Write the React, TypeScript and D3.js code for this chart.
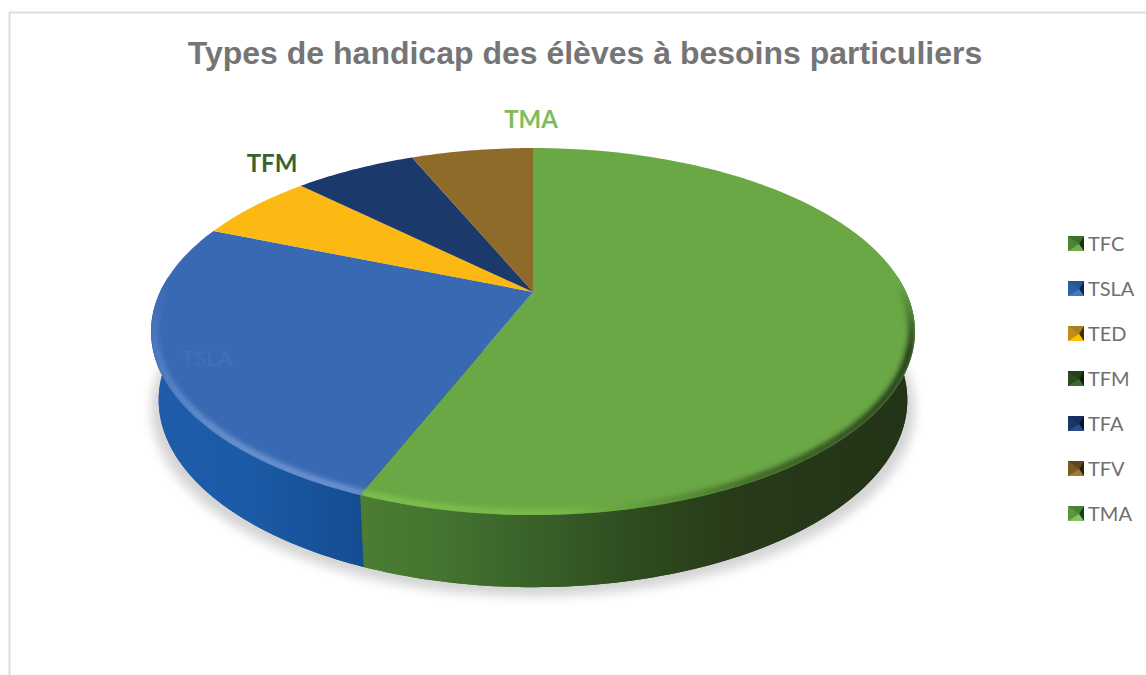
import React from "react";
import * as d3 from "d3";

const categories = ["TFC", "TSLA", "TED", "TFM", "TFA", "TFV", "TMA"];
const seriesValues = [56.05, 25.1, 6.15, 0, 6.35, 6.35, 0];
const topColors = ["#6aa846", "#3a69b3", "#fcb813", "#2f5320", "#1c396c", "#8f6b2a", "#7cbb5b"];
const iconTop = ["#3f6f2c", "#27538f", "#a77f1e", "#22401a", "#16305c", "#5f471c", "#4a7f37"];
const iconLeft = ["#4e8535", "#2d5fa5", "#bd8f1c", "#2a4c20", "#1a3767", "#7a5b24", "#5a9640"];
const iconBottom = ["#6fae4c", "#4678c0", "#ffc000", "#3f6a2e", "#2b4f88", "#a07c30", "#85c464"];
const iconRight = ["#1c2e14", "#0e2746", "#3d2e08", "#111f0c", "#08152b", "#2b200b", "#22391a"];
const chartTitle = "Types de handicap des élèves à besoins particuliers";

const W = 1146;
const H = 675;
const CX = 533;
const CY = 292;
const A = 373;
const B = 175;
const K = 0.2153;
const STEP = Math.PI / 180;

const rad = (deg: number) => (deg * Math.PI) / 180;

function project(theta: number, r = 1): [number, number] {
  const u = r * Math.sin(theta);
  const v = -r * Math.cos(theta);
  const w = 1 - K * v;
  return [CX + (A * u) / w, CY + (B * v) / w];
}
const low = ([x, y]: [number, number]): [number, number] => [
  CX + (x - CX) * 0.98,
  400 + (y - 331.5) * 1.02,
];

function arcPts(a0: number, a1: number, r = 1): [number, number][] {
  if (a1 <= a0) return [];
  const n = Math.max(2, Math.ceil((a1 - a0) / STEP));
  return d3.range(n + 1).map((i) => project(a0 + ((a1 - a0) * i) / n, r));
}

const line = d3.line<[number, number]>();
const center: [number, number] = [CX, CY];

const pie = d3.pie<number>().sort(null).value((d) => d);
const arcs = pie(seriesValues);
const color = d3.scaleOrdinal<string, string>().domain(categories).range(topColors);
const legendY = d3.scalePoint<string>().domain(categories).range([244, 514]);

const wallStops: Record<string, [number, string][]> = {
  TFC: [[361, "#4c7d33"], [440, "#44742f"], [540, "#386029"], [640, "#2e4a1e"], [740, "#273a19"], [915, "#223317"]],
  TSLA: [[150, "#1f5dab"], [250, "#1b5aa6"], [365, "#144c90"]],
};
const rimStops: Record<string, [number, string][]> = {
  TFC: [[361, "#80c04f"], [560, "#79bd49"], [660, "#5d9338"], [760, "#3e6226"], [915, "#22351a"]],
  TSLA: [[150, "#4f7cc0"], [220, "#6c94d0"], [365, "#6f95cf"]],
};

function Grad({ id, stops }: { id: string; stops: [number, string][] }) {
  const x0 = stops[0][0];
  const x1 = stops[stops.length - 1][0];
  return (
    <linearGradient id={id} gradientUnits="userSpaceOnUse" x1={x0} x2={x1} y1={0} y2={0}>
      {stops.map(([x, c], i) => (
        <stop key={i} offset={(x - x0) / (x1 - x0)} stopColor={c} />
      ))}
    </linearGradient>
  );
}

export default function App() {
  const full = arcPts(0, 2 * Math.PI);
  const visible = arcs
    .map((a, i) => ({ a, name: categories[i], i }))
    .filter((d) => d.a.endAngle > d.a.startAngle);
  const walled = visible.filter((d) => wallStops[d.name]);
  const iconSize = 16;
  return (
    <svg
      width={W}
      height={H}
      viewBox={`0 0 ${W} ${H}`}
      style={{ position: "absolute", left: 0, top: 0, display: "block", background: "#fff" }}
    >
      <defs>
        <filter id="shadow" x="-10%" y="-10%" width="120%" height="120%">
          <feGaussianBlur stdDeviation="5.5" />
        </filter>
        <filter id="rimBlur" filterUnits="userSpaceOnUse" x={100} y={100} width={900} height={500}>
          <feGaussianBlur stdDeviation="2.4" />
        </filter>
        <clipPath id="topClip">
          <path d={line(full) + "Z"} />
        </clipPath>
        <linearGradient id="rimFade" gradientUnits="userSpaceOnUse" x1={0} x2={0} y1={285} y2={350}>
          <stop offset={0} stopColor="#000" />
          <stop offset={1} stopColor="#fff" />
        </linearGradient>
        <mask id="rimMask" maskUnits="userSpaceOnUse" x={0} y={0} width={W} height={H}>
          <rect x={0} y={0} width={W} height={H} fill="url(#rimFade)" />
        </mask>
        {walled.map((d) => (
          <Grad key={d.name} id={`wall${d.name}`} stops={wallStops[d.name]} />
        ))}
        {walled.map((d) => (
          <Grad key={d.name} id={`rim${d.name}`} stops={rimStops[d.name]} />
        ))}
      </defs>

      <path d={`M9.5,675V12.5H${W}`} fill="none" stroke="#dedede" strokeWidth={2} />

      <text
        x={585}
        y={64}
        textAnchor="middle"
        fontFamily="'Liberation Sans', Arial, sans-serif"
        fontWeight={700}
        fontSize={32}
        fill="#757575"
      >
        {chartTitle}
      </text>

      <path
        d={line(full.map(low).map(([x, y]) => [CX + (x - CX) * 1.02, y + 9] as [number, number])) + "Z"}
        fill="#000"
        opacity={0.17}
        filter="url(#shadow)"
      />

      {walled.map((d) => {
        const lowerPts = arcPts(d.a.startAngle, d.a.endAngle).map(low);
        return (
          <path
            key={`base${d.name}`}
            d={line([low(project(0, 0)), ...lowerPts]) + "Z"}
            fill={`url(#wall${d.name})`}
          />
        );
      })}
      {walled.map((d) => {
        const a0 = Math.max(d.a.startAngle, rad(85));
        const a1 = Math.min(d.a.endAngle, rad(275));
        const upper = arcPts(a0, a1);
        const lower = upper.map(low).reverse();
        return <path key={`wall${d.name}`} d={line([...upper, ...lower]) + "Z"} fill={`url(#wall${d.name})`} />;
      })}

      {visible.map((d) => (
        <path
          key={`top${d.name}`}
          d={line([center, ...arcPts(d.a.startAngle, d.a.endAngle)]) + "Z"}
          fill={color(d.name)}
        />
      ))}

      <g clipPath="url(#topClip)">
        <g mask="url(#rimMask)">
          {walled.map((d) => {
            const a0 = Math.max(d.a.startAngle, rad(60));
            const a1 = Math.min(d.a.endAngle, rad(292));
            return (
              <path
                key={`rim${d.name}`}
                d={line(arcPts(a0, a1, 0.992)) ?? ""}
                fill="none"
                stroke={`url(#rim${d.name})`}
                strokeWidth={7}
                filter="url(#rimBlur)"
              />
            );
          })}
        </g>
      </g>

      <g fontFamily="Lato, Carlito, sans-serif">
        <text x={531} y={128} textAnchor="middle" fontWeight={700} fontSize={24} fill="#7dbd5a">
          {categories[6]}
        </text>
        <text x={272} y={172} textAnchor="middle" fontWeight={700} fontSize={24} fill="#386330">
          {categories[3]}
        </text>
        <text x={207} y={366} textAnchor="middle" fontSize={22} fill="#4270b8">
          {categories[1]}
        </text>
      </g>

      {categories.map((name, i) => {
        const cy = legendY(name) as number;
        const x0 = 1068;
        const y0 = cy - iconSize / 2;
        const s = iconSize;
        const apex: [number, number] = [x0 + s * 0.7, y0 + s * 0.5];
        const c: [number, number][] = [
          [x0, y0],
          [x0 + s, y0],
          [x0 + s, y0 + s - 1],
          [x0, y0 + s - 1],
        ];
        return (
          <g key={name}>
            <path d={line(c) + "Z"} fill={iconLeft[i]} />
            <path d={line([c[0], c[1], apex]) + "Z"} fill={iconTop[i]} />
            <path d={line([c[2], c[3], apex]) + "Z"} fill={iconBottom[i]} />
            <path d={line([c[1], c[2], apex]) + "Z"} fill={iconRight[i]} />
            <text x={1088} y={cy + 7} fontFamily="Lato, Carlito, sans-serif" fontSize={20} fill="#6f6f6f">
              {name}
            </text>
          </g>
        );
      })}
    </svg>
  );
}
